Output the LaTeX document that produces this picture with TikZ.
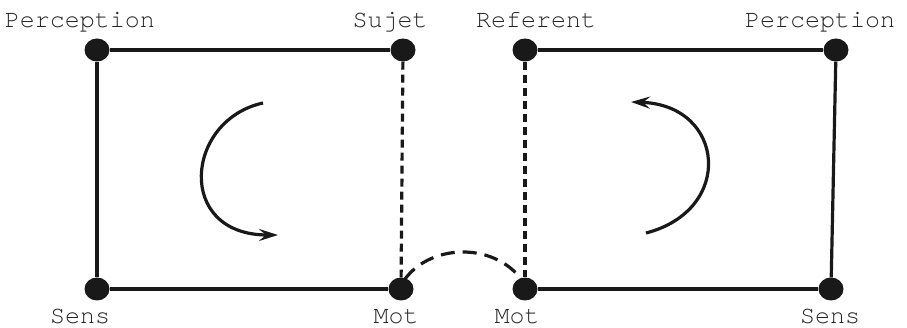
\documentclass[tikz,border=0pt]{standalone}
\usepackage{fontspec}
\setmonofont{TeX Gyre Cursor}
\usetikzlibrary{arrows.meta,shapes.geometric}
\begin{document}
\begin{tikzpicture}[x=1pt,y=-1pt,
  dot/.style={ellipse,fill=black!90,minimum width=25pt,minimum height=23pt,inner sep=0pt},
  lbl/.style={font=\ttfamily\fontsize{25}{27}\selectfont,text=black!85,inner sep=0pt,anchor=base},
  edge/.style={line width=3.2pt,black!90},
  dline/.style={line width=3.2pt,black!90,dash pattern=on 8pt off 5pt},
  aline/.style={line width=3.2pt,black!90,dash pattern=on 14pt off 8pt},
  curv/.style={line width=3.2pt,black!90,-{Stealth[length=19pt,width=12pt,inset=7pt]}}]
\useasboundingbox (0,0) rectangle (907,328);
\node[dot] (p1) at (97,50) {};
\node[dot] (su) at (403,50) {};
\node[dot] (s1) at (97,289) {};
\node[dot] (m1) at (401,289) {};
\node[dot] (re) at (525,50) {};
\node[dot] (p2) at (836,50) {};
\node[dot] (m2) at (525,289) {};
\node[dot] (s2) at (831,289) {};
\node[lbl] (lp1) at (80,28) {Perception};
\node[lbl] (lsu) at (390,28) {Sujet};
\node[lbl] (lre) at (536,28) {Referent};
\node[lbl] (lp2) at (820,28) {Perception};
\node[lbl] (ls1) at (80,324) {Sens};
\node[lbl] (lm1) at (396,324) {Mot};
\node[lbl] (lm2) at (517,324) {Mot};
\node[lbl] (ls2) at (830,324) {Sens};
\draw[edge] (p1) -- (su);
\draw[edge] (p1) -- (s1);
\draw[edge] (s1) -- (m1);
\draw[edge] (re) -- (p2);
\draw[edge] (p2) -- (s2);
\draw[edge] (m2) -- (s2);
\draw[dline] (su) -- (m1);
\draw[dline] (re) -- (m2);
\coordinate (a1) at (405,279);
\coordinate (a2) at (521,279);
\draw[aline] (a1) .. controls (432,243) and (494,243) .. (a2);
\coordinate (l1) at (263,103);
\coordinate (l2) at (278,235);
\draw[curv] (l1) .. controls (185,120) and (175,235) .. (l2);
\coordinate (r1) at (646,233);
\coordinate (r2) at (631,102);
\draw[curv] (r1) .. controls (735,210) and (725,105) .. (r2);
\end{tikzpicture}
\end{document}
